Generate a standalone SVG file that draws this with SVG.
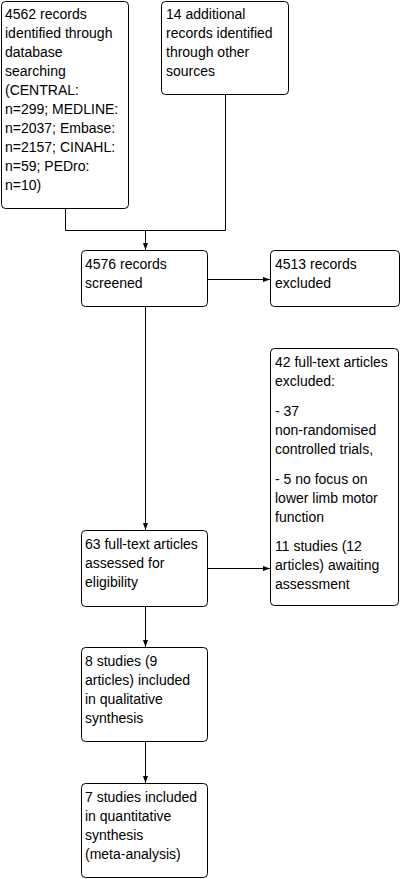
<svg xmlns="http://www.w3.org/2000/svg" width="402" height="879" viewBox="0 0 402 879">
<style>
.box{fill:#fff;stroke:#000;stroke-width:1}
.t{font-family:"Liberation Sans",Arial,sans-serif;font-size:14px;fill:#000}
.c{fill:none;stroke:#000;stroke-width:1}
</style>
<defs>
<marker id="ah" markerWidth="7" markerHeight="6" refX="7" refY="3" orient="auto" markerUnits="userSpaceOnUse">
<path d="M0,0.5 L7,3 L0,5.5 z" fill="#000"/>
</marker>
</defs>
<rect width="402" height="879" fill="#fff"/>
<g id="connectors">
<polyline class="c" points="65.5,209 65.5,230.5 225.5,230.5 225.5,95"/>
<line class="c" x1="145.5" y1="230.5" x2="145.5" y2="250" marker-end="url(#ah)"/>
<line class="c" x1="208" y1="279.5" x2="270" y2="279.5" marker-end="url(#ah)"/>
<line class="c" x1="145.5" y1="307" x2="145.5" y2="530" marker-end="url(#ah)"/>
<line class="c" x1="208" y1="568.5" x2="270" y2="568.5" marker-end="url(#ah)"/>
<line class="c" x1="145.5" y1="607" x2="145.5" y2="647" marker-end="url(#ah)"/>
<line class="c" x1="145.5" y1="742" x2="145.5" y2="783" marker-end="url(#ah)"/>
</g>
<g id="n1">
<rect class="box" x="1.5" y="1.5" width="127" height="207" rx="4"/>
<text class="t" x="5" y="19"><tspan x="5" y="19">4562 records</tspan><tspan x="5" y="38">identified through</tspan><tspan x="5" y="57">database</tspan><tspan x="5" y="76">searching</tspan><tspan x="5" y="95">(CENTRAL:</tspan><tspan x="5" y="114">n=299; MEDLINE:</tspan><tspan x="5" y="133">n=2037; Embase:</tspan><tspan x="5" y="152">n=2157; CINAHL:</tspan><tspan x="5" y="171">n=59; PEDro:</tspan><tspan x="5" y="190">n=10)</tspan></text>
</g>
<g id="n2">
<rect class="box" x="161.5" y="1.5" width="127" height="93" rx="4"/>
<text class="t"><tspan x="166" y="19">14 additional</tspan><tspan x="166" y="38">records identified</tspan><tspan x="166" y="57">through other</tspan><tspan x="166" y="76">sources</tspan></text>
</g>
<g id="n3">
<rect class="box" x="81.5" y="250.5" width="126" height="56" rx="4"/>
<text class="t"><tspan x="85" y="269">4576 records</tspan><tspan x="85" y="288">screened</tspan></text>
</g>
<g id="n4">
<rect class="box" x="270.5" y="250.5" width="129" height="56" rx="4"/>
<text class="t"><tspan x="275" y="269">4513 records</tspan><tspan x="275" y="288">excluded</tspan></text>
</g>
<g id="n5">
<rect class="box" x="270.5" y="348.5" width="128" height="257" rx="4"/>
<text class="t"><tspan x="275" y="367">42 full-text articles</tspan><tspan x="275" y="386">excluded:</tspan><tspan x="275" y="416">- 37</tspan><tspan x="275" y="435">non-randomised</tspan><tspan x="275" y="454">controlled trials,</tspan><tspan x="275" y="484">- 5 no focus on</tspan><tspan x="275" y="503">lower limb motor</tspan><tspan x="275" y="522">function</tspan><tspan x="275" y="551">11 studies (12</tspan><tspan x="275" y="570">articles) awaiting</tspan><tspan x="275" y="589">assessment</tspan></text>
</g>
<g id="n6">
<rect class="box" x="81.5" y="530.5" width="126" height="76" rx="4"/>
<text class="t"><tspan x="85" y="549">63 full-text articles</tspan><tspan x="85" y="568">assessed for</tspan><tspan x="85" y="587">eligibility</tspan></text>
</g>
<g id="n7">
<rect class="box" x="81.5" y="647.5" width="126" height="94" rx="4"/>
<text class="t"><tspan x="85" y="666">8 studies (9</tspan><tspan x="85" y="685">articles) included</tspan><tspan x="85" y="704">in qualitative</tspan><tspan x="85" y="723">synthesis</tspan></text>
</g>
<g id="n8">
<rect class="box" x="81.5" y="783.5" width="126" height="94" rx="4"/>
<text class="t"><tspan x="85" y="802">7 studies included</tspan><tspan x="85" y="821">in quantitative</tspan><tspan x="85" y="840">synthesis</tspan><tspan x="85" y="859">(meta-analysis)</tspan></text>
</g>
</svg>
